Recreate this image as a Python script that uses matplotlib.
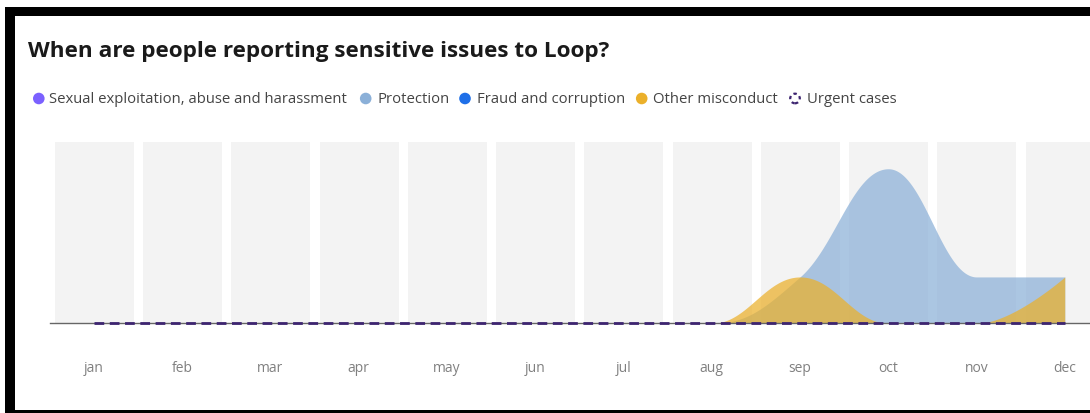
import numpy as np
import matplotlib.pyplot as plt
from matplotlib.patches import Circle, Rectangle
from matplotlib.transforms import IdentityTransform

plt.rcParams['font.family'] = ['Open Sans', 'DejaVu Sans']

months = ['jan', 'feb', 'mar', 'apr', 'may', 'jun', 'jul', 'aug', 'sep', 'oct', 'nov', 'dec']
sexual = [0, 0, 0, 0, 0, 0, 0, 0, 0, 0, 0, 0]
protection = [0, 0, 0, 0, 0, 0, 0, 0, 3, 10, 3, 3]
fraud = [0, 0, 0, 0, 0, 0, 0, 0, 0, 0, 0, 0]
other = [0, 0, 0, 0, 0, 0, 0, 0, 3, 0, 0, 3]
urgent = [0, 0, 0, 0, 0, 0, 0, 0, 0, 0, 0, 0]

series = [
    ('Sexual exploitation, abuse and harassment', sexual, '#7b61ff'),
    ('Protection', protection, '#8bb0d8'),
    ('Fraud and corruption', fraud, '#1e6fe8'),
    ('Other misconduct', other, '#ebb02a'),
]
urgent_color = '#3d2470'


def spline(ys, smoothing=1.5, steps=80):
    # smooth area outline: cubic beziers with control points at 1/2.5 of the step,
    # flattened at local peaks so the curve never overshoots its points
    y = np.asarray(ys, dtype=float)
    n = len(y)
    x = np.arange(n, dtype=float)
    left = [(x[i], y[i]) for i in range(n)]
    right = [(x[i], y[i]) for i in range(n)]
    denom = smoothing + 1
    for i in range(1, n - 1):
        lx = (smoothing * x[i] + x[i - 1]) / denom
        ly = (smoothing * y[i] + y[i - 1]) / denom
        rx = (smoothing * x[i] + x[i + 1]) / denom
        ry = (smoothing * y[i] + y[i + 1]) / denom
        corr = (ry - ly) * (rx - x[i]) / (rx - lx) + y[i] - ry
        ly += corr
        ry += corr
        if ly > y[i - 1] and ly > y[i]:
            ly = max(y[i - 1], y[i]); ry = 2 * y[i] - ly
        elif ly < y[i - 1] and ly < y[i]:
            ly = min(y[i - 1], y[i]); ry = 2 * y[i] - ly
        if ry > y[i + 1] and ry > y[i]:
            ry = max(y[i + 1], y[i]); ly = 2 * y[i] - ry
        elif ry < y[i + 1] and ry < y[i]:
            ry = min(y[i + 1], y[i]); ly = 2 * y[i] - ry
        left[i] = (lx, ly)
        right[i] = (rx, ry)
    t = np.linspace(0, 1, steps)[:, None]
    pts = []
    for i in range(1, n):
        p0 = np.array([x[i - 1], y[i - 1]])
        p1 = np.array(right[i - 1])
        p2 = np.array(left[i])
        p3 = np.array([x[i], y[i]])
        seg = ((1 - t) ** 3) * p0 + 3 * ((1 - t) ** 2) * t * p1 + 3 * (1 - t) * t ** 2 * p2 + t ** 3 * p3
        pts.append(seg if i == 1 else seg[1:])
    pts = np.vstack(pts)
    return pts[:, 0], pts[:, 1]


W, H = 1090, 414
fig = plt.figure(figsize=(W / 100, H / 100), dpi=100)

# plot area: month 0 at x=94px, step 88.25px, baseline at y=324px
x0, step = 94, 88.25
left_px, right_px = 50, W
bot_px, top_px = 324.3, 142.7
ax = fig.add_axes([left_px / W, (H - bot_px) / H, (right_px - left_px) / W, (bot_px - top_px) / H])
ax.set_xlim((left_px - x0) / step, (right_px - x0) / step)
ymax = 11.75
ax.set_ylim(0, ymax)

idx = np.arange(len(months))
ax.bar(idx + 0.005, ymax, width=79 / step, color='#f3f3f3', zorder=0)

for name, vals, col in series:
    xs, ys = spline(vals)
    ax.fill_between(xs, 0, ys, color=col, alpha=0.72, linewidth=0, zorder=2)

ax.axhline(0, color='#666666', linewidth=1, zorder=3, clip_on=False)
ax.plot(idx, urgent, color=urgent_color, linewidth=2, linestyle=(0, (3.5, 2)),
        zorder=4, clip_on=False)

for sp in ax.spines.values():
    sp.set_visible(False)
ax.set_yticks([])
ax.set_xticks(idx)
ax.set_xticklabels(months, fontsize=10, color='#808080')
ax.tick_params(axis='x', length=0, pad=26.5)

fig.text(28 / W, 1 - 51.5 / H, 'When are people reporting sensitive issues to Loop?',
         fontsize=16.2, fontweight='bold', color='#1a1a1a', va='center', ha='left')

# legend
legend_y = H - 99.5
items = [
    (38.8, 49.3, series[0][0], series[0][2]),
    (365.7, 377.7, series[1][0], series[1][2]),
    (465.0, 476.7, series[2][0], series[2][2]),
    (641.7, 653.0, series[3][0], series[3][2]),
]
for cx, tx, label, col in items:
    fig.add_artist(Circle((cx, legend_y), 5.8, facecolor=col, edgecolor='none',
                          transform=IdentityTransform()))
    fig.text(tx / W, legend_y / H, label, fontsize=10.7, color='#444444',
             va='center', ha='left')
fig.add_artist(Circle((795.0, legend_y), 4.8, facecolor='none', edgecolor=urgent_color,
                      linewidth=1.6, linestyle=(0, (1.5, 1.5)), transform=IdentityTransform()))
fig.text(806.7 / W, legend_y / H, 'Urgent cases', fontsize=10.7, color='#444444',
         va='center', ha='left')

# frame around the card
fig.add_artist(Rectangle((5, 0), 10, H - 8, facecolor='black', edgecolor='none',
                         transform=IdentityTransform()))
fig.add_artist(Rectangle((5, H - 17), W - 5, 9, facecolor='black', edgecolor='none',
                         transform=IdentityTransform()))
fig.add_artist(Rectangle((5, 0), W - 5, 3, facecolor='black', edgecolor='none',
                         transform=IdentityTransform()))

fig.savefig('out.png', dpi=100)
